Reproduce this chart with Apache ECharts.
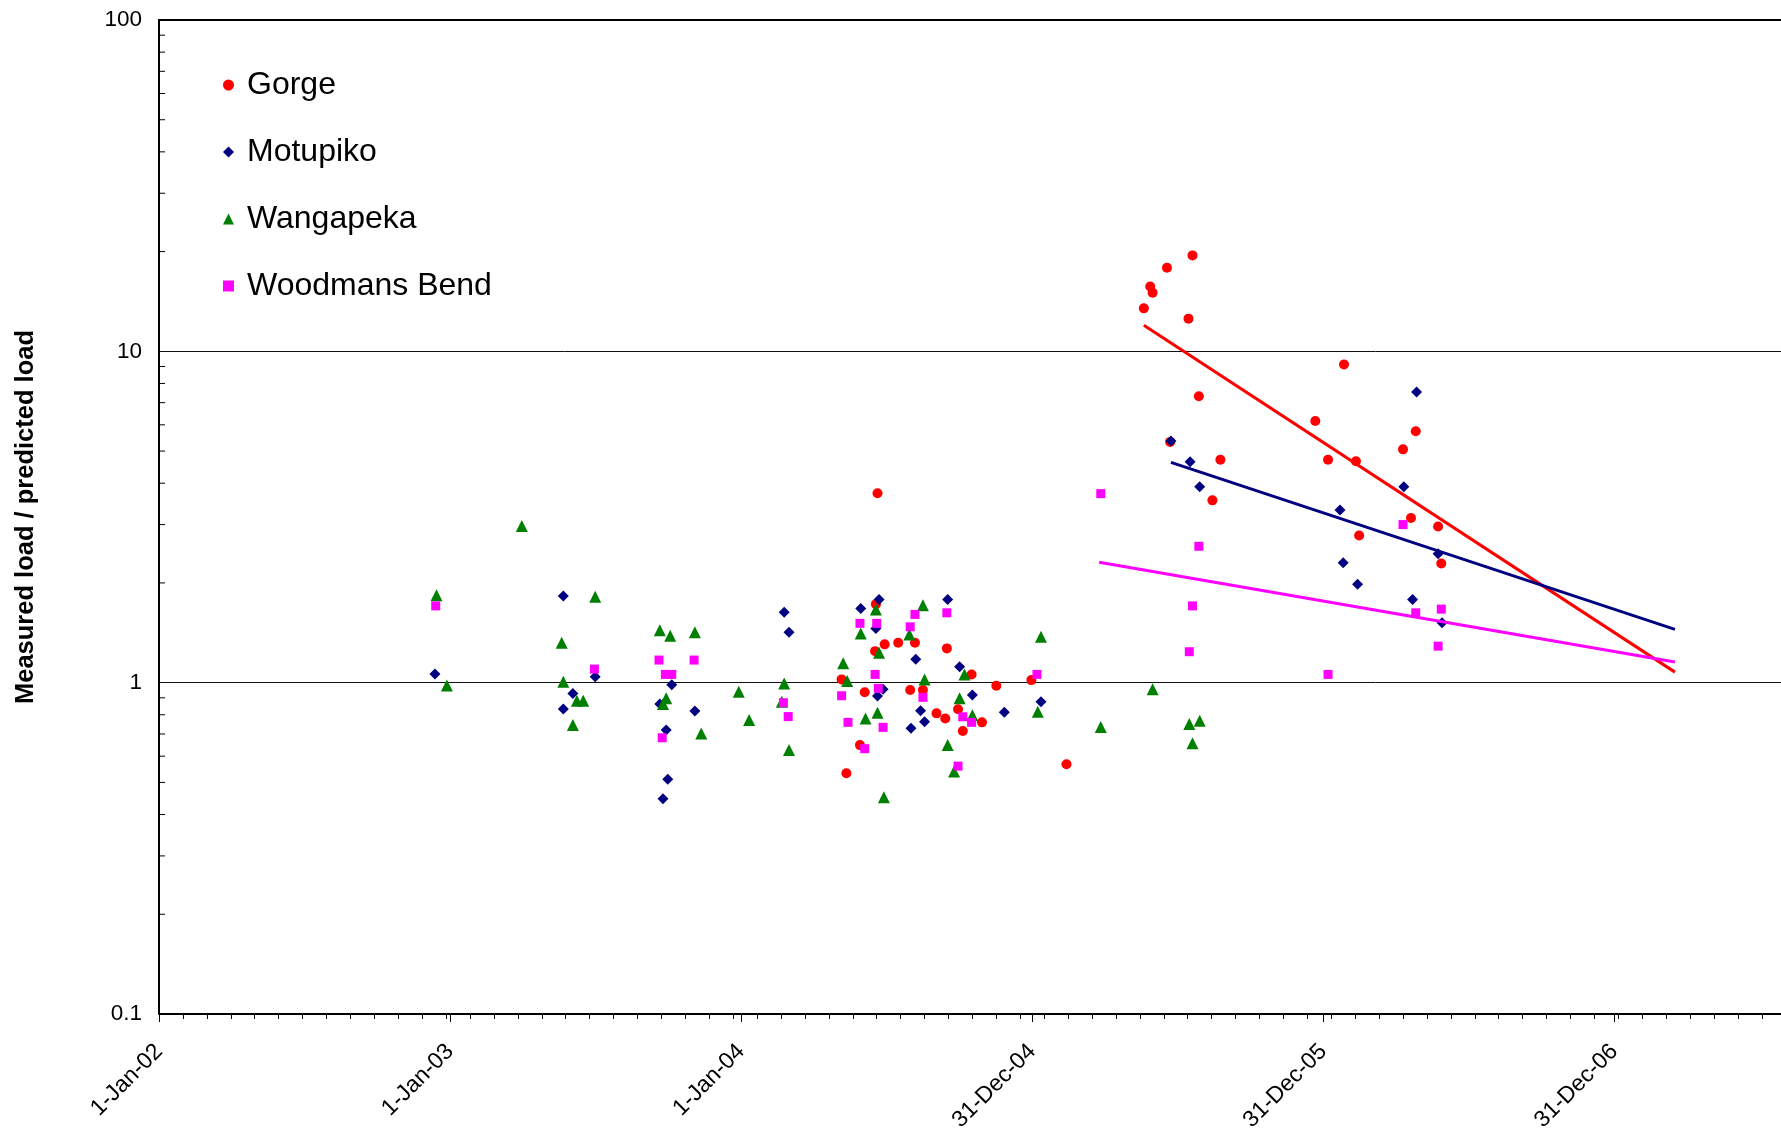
<!DOCTYPE html>
<html>
<head>
<meta charset="utf-8">
<script src="https://cdn.jsdelivr.net/npm/echarts@6/dist/echarts.min.js"></script>
<style>
html,body{margin:0;padding:0;background:#ffffff;}
#chart{width:1781px;height:1140px;}
</style>
</head>
<body>
<div id="chart"></div>
<script>
// ---- DATA (x = days since 1-Jan-2002, y = measured load / predicted load) ----
const seriesNames = ['Gorge', 'Motupiko', 'Wangapeka', 'Woodmans Bend'];

const gorgePoints = [
  [856, 1.023], [862, 0.533], [879, 0.648], [885, 0.935], [898, 1.245], [899, 1.726],
  [901, 3.73], [910, 1.305], [927, 1.319], [942, 0.95], [948, 1.319], [958, 0.95],
  [975, 0.808], [986, 0.78], [988, 1.269], [1002, 0.831], [1008, 0.715], [1019, 1.059],
  [1032, 0.759], [1050, 0.979], [1094, 1.018], [1138, 0.567],
  [1235, 13.48], [1243, 15.7], [1246, 15.03], [1264, 17.88], [1291, 12.55], [1296, 19.48],
  [1268, 5.33], [1304, 7.32], [1321, 3.55], [1331, 4.71],
  [1450, 6.16], [1466, 4.71], [1486, 9.12], [1501, 4.66], [1505, 2.78], [1560, 5.06],
  [1570, 3.14], [1576, 5.74], [1604, 2.96], [1608, 2.29]
];

const motupikoPoints = [
  [346, 1.062], [507, 1.825], [519, 0.928], [507, 0.833], [547, 1.042], [643, 0.986],
  [628, 0.862], [672, 0.821], [636, 0.72], [638, 0.511], [632, 0.446],
  [784, 1.63], [790, 1.42], [880, 1.675], [903, 1.783], [989, 1.783], [899, 1.458],
  [949, 1.176], [1004, 1.117], [908, 0.955], [901, 0.911], [1020, 0.918], [955, 0.823],
  [960, 0.762], [943, 0.728], [1060, 0.814], [1106, 0.876],
  [1269, 5.36], [1293, 4.64], [1305, 3.9],
  [1481, 3.32], [1485, 2.3], [1503, 1.983], [1561, 3.9], [1577, 7.54], [1572, 1.783],
  [1604, 2.45], [1609, 1.516]
];

const wangapekaPoints = [
  [348, 1.837], [361, 0.98], [455, 2.97], [505, 1.319], [507, 1.006], [519, 0.745],
  [524, 0.882], [532, 0.882], [547, 1.816], [628, 1.44], [641, 1.385], [672, 1.42],
  [636, 0.897], [632, 0.862], [680, 0.703], [727, 0.939], [740, 0.771], [784, 0.995],
  [781, 0.876], [790, 0.626],
  [858, 1.144], [863, 1.011], [880, 1.408], [886, 0.78], [899, 1.663], [901, 0.811],
  [903, 1.231], [909, 0.451], [941, 1.398], [958, 1.714], [960, 1.023], [989, 0.648],
  [997, 0.539], [1004, 0.897], [1010, 1.059], [1020, 0.798], [1102, 0.817], [1106, 1.375],
  [1181, 0.735],
  [1246, 0.955], [1292, 0.75], [1305, 0.767], [1296, 0.656]
];

const woodmansPoints = [
  [347, 1.705], [546, 1.099], [627, 1.17], [671, 1.17], [635, 1.059], [643, 1.059],
  [631, 0.682], [783, 0.87], [789, 0.79],
  [948, 1.607], [988, 1.625], [879, 1.51], [900, 1.51], [942, 1.474], [898, 1.059],
  [1101, 1.059], [902, 0.961], [856, 0.913], [958, 0.903], [1008, 0.789], [1019, 0.759],
  [864, 0.759], [908, 0.733], [885, 0.632], [1002, 0.56],
  [1181, 3.72], [1292, 1.24], [1296, 1.705], [1304, 2.58],
  [1466, 1.059], [1560, 3.0], [1576, 1.625], [1604, 1.289], [1608, 1.667]
];

// trend lines (end points)
const gorgeTrend = [[1235, 11.98], [1901, 1.076]];
const motupikoTrend = [[1269, 4.62], [1901, 1.448]];
const woodmansTrend = [[1179, 2.31], [1901, 1.154]];

// axis ticks
const yTickLabels = [0.1, 1, 10, 100];
const yMinorTickValues = [0.2, 0.3, 0.4, 0.5, 0.6, 0.7, 0.8, 0.9,
                          2, 3, 4, 5, 6, 7, 8, 9,
                          20, 30, 40, 50, 60, 70, 80, 90];
const xTickLabels = ['1-Jan-02', '1-Jan-03', '1-Jan-04', '31-Dec-04', '31-Dec-05', '31-Dec-06'];

// ---- CHART ----
const X_MIN = 0, X_MAX = 2034, X_MAJOR = 365, X_MINOR = 30;
const FONT = "'Liberation Sans', Arial, sans-serif";
const colors = ['#FF0000', '#000080', '#008000', '#FF00FF'];

const chart = echarts.init(document.getElementById('chart'), null, {renderer: 'canvas'});

function scatter(name, data, symbol, size, color) {
  return {
    name: name, type: 'scatter', data: data, symbol: symbol, symbolSize: size,
    itemStyle: {color: color, opacity: 1}, xAxisIndex: 0, yAxisIndex: 0,
    emphasis: {disabled: true}
  };
}
function trend(name, data, color) {
  return {
    name: name, type: 'line', data: data, showSymbol: false, symbol: 'none',
    lineStyle: {color: color, width: 3}, itemStyle: {color: color},
    xAxisIndex: 0, yAxisIndex: 0, z: 3, silent: true
  };
}

const option = {
  animation: false,
  backgroundColor: '#ffffff',
  textStyle: {fontFamily: FONT},
  grid: {left: 159, right: 0, top: 20, bottom: 126, containLabel: false, outerBoundsMode: 'none'},
  legend: {
    data: seriesNames,
    orient: 'vertical',
    left: 218,
    top: 64,
    itemGap: 35,
    itemWidth: 11,
    itemHeight: 11,
    textStyle: {fontFamily: FONT, fontSize: 32, color: '#000', padding: [0, 0, 0, 8]},
    selectedMode: false
  },
  xAxis: [
    {
      type: 'value', position: 'bottom', min: X_MIN, max: X_MAX, interval: X_MAJOR,
      axisLine: {show: true, lineStyle: {color: '#000', width: 2}},
      axisTick: {show: true, inside: false, length: 8, lineStyle: {color: '#000', width: 1}},
      splitLine: {show: false},
      axisLabel: {
        show: true, rotate: 45, margin: 34, fontSize: 23, color: '#000', fontFamily: FONT,
        showMaxLabel: false,
        formatter: function (v) {
          const i = Math.round(v / X_MAJOR);
          return (Math.abs(v - i * X_MAJOR) < 1e-6 && i < xTickLabels.length) ? xTickLabels[i] : '';
        }
      }
    },
    {
      type: 'value', position: 'bottom', min: X_MIN, max: X_MAX, interval: X_MINOR,
      axisLine: {show: false},
      axisTick: {show: true, inside: false, length: 5, lineStyle: {color: '#000', width: 1}},
      splitLine: {show: false},
      axisLabel: {show: false}
    },
    {
      type: 'value', position: 'top', min: X_MIN, max: X_MAX, interval: X_MAJOR,
      axisLine: {show: true, lineStyle: {color: '#000', width: 2}},
      axisTick: {show: false}, splitLine: {show: false}, axisLabel: {show: false}
    }
  ],
  yAxis: [
    {
      type: 'log', logBase: 10, min: 0.1, max: 100,
      axisLine: {show: true, lineStyle: {color: '#000', width: 2}},
      axisTick: {show: false},
      splitLine: {show: true, lineStyle: {color: '#111', width: 1}},
      axisLabel: {
        show: true, margin: 17, fontSize: 22.5, color: '#000', fontFamily: FONT,
        formatter: function (v) {
          for (const t of yTickLabels) { if (Math.abs(v - t) / t < 1e-6) return String(t); }
          return '';
        }
      },
      name: 'Measured load / predicted load',
      nameLocation: 'middle',
      nameGap: 120,
      nameTextStyle: {fontSize: 25.5, fontWeight: 'bold', color: '#000', fontFamily: FONT}
    }
  ],
  series: [
    scatter('Gorge', gorgePoints, 'circle', 10, colors[0]),
    scatter('Motupiko', motupikoPoints, 'diamond', 11, colors[1]),
    scatter('Wangapeka', wangapekaPoints, 'triangle', 12, colors[2]),
    scatter('Woodmans Bend', woodmansPoints, 'rect', 9, colors[3]),
    trend('Gorge trend', gorgeTrend, colors[0]),
    trend('Motupiko trend', motupikoTrend, colors[1]),
    trend('Woodmans Bend trend', woodmansTrend, colors[3]),
    {
      name: 'y minor ticks', type: 'custom', xAxisIndex: 0, yAxisIndex: 0,
      silent: true, clip: false, z: 5,
      data: yMinorTickValues.map(function (v) { return [X_MIN, v]; }),
      renderItem: function (params, api) {
        const p = api.coord([api.value(0), api.value(1)]);
        return {
          type: 'line',
          shape: {x1: p[0], y1: p[1], x2: p[0] + 6, y2: p[1]},
          style: {stroke: '#000', lineWidth: 1}
        };
      }
    }
  ]
};
chart.setOption(option);
</script>
</body>
</html>
